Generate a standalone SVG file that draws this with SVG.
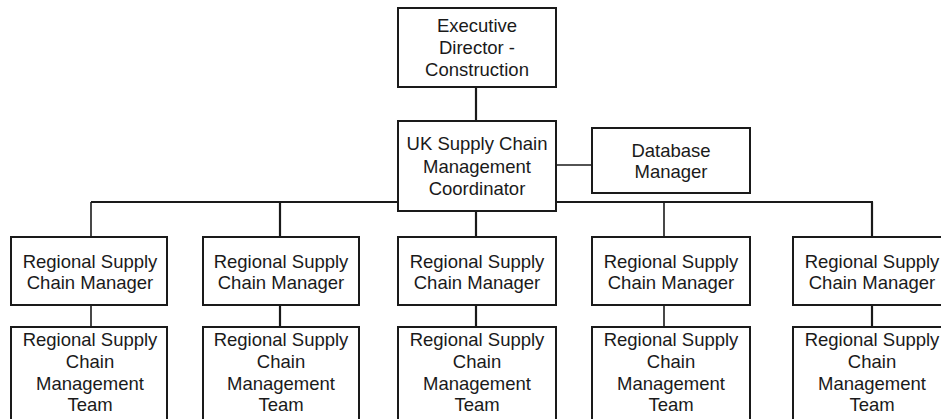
<svg xmlns="http://www.w3.org/2000/svg" width="941" height="419" viewBox="0 0 941 419">
  <style>
    .box { fill: #ffffff; stroke: #1a1a1a; stroke-width: 2; }
    .lbl { font-family: "Liberation Sans", Arial, Helvetica, sans-serif; font-size: 18.5px; fill: #1a1a1a; text-anchor: middle; }
    .wire { stroke: #1a1a1a; stroke-width: 1.6; fill: none; }
    .bus { stroke: #1a1a1a; stroke-width: 2.2; fill: none; }
  </style>
  <rect width="941" height="419" fill="#ffffff"/>

  <!-- connectors -->
  <g id="connectors">
    <line class="bus" x1="476" y1="87" x2="476" y2="121"/>
    <line class="wire" x1="556" y1="165" x2="592" y2="165"/>
    <line class="bus" x1="91" y1="202" x2="873" y2="202"/>
    <line class="wire" x1="91" y1="202" x2="91" y2="237"/>
    <line class="bus" x1="280" y1="202" x2="280" y2="237"/>
    <line class="bus" x1="476" y1="211" x2="476" y2="237"/>
    <line class="wire" x1="664" y1="202" x2="664" y2="237"/>
    <line class="bus" x1="872" y1="202" x2="872" y2="237"/>
    <line class="wire" x1="91" y1="305" x2="91" y2="327"/>
    <line class="bus" x1="280" y1="305" x2="280" y2="327"/>
    <line class="bus" x1="476" y1="305" x2="476" y2="327"/>
    <line class="wire" x1="664" y1="305" x2="664" y2="327"/>
    <line class="bus" x1="872" y1="305" x2="872" y2="327"/>
  </g>

  <g id="executive-director">
    <rect class="box" x="398" y="8" width="158" height="79"/>
    <text class="lbl" x="477" y="32">Executive</text>
    <text class="lbl" x="477" y="54">Director -</text>
    <text class="lbl" x="477" y="76">Construction</text>
  </g>

  <g id="uk-coordinator">
    <rect class="box" x="398" y="121" width="158" height="90"/>
    <text class="lbl" x="477" y="150">UK Supply Chain</text>
    <text class="lbl" x="477" y="172.5">Management</text>
    <text class="lbl" x="477" y="195">Coordinator</text>
  </g>

  <g id="database-manager">
    <rect class="box" x="592" y="128" width="158" height="65"/>
    <text class="lbl" x="671" y="156.5">Database</text>
    <text class="lbl" x="671" y="178">Manager</text>
  </g>

  <!-- regional managers -->
  <g id="manager-1">
    <rect class="box" x="11" y="237" width="156" height="68"/>
    <text class="lbl" x="90" y="267.5">Regional Supply</text>
    <text class="lbl" x="90" y="288.5">Chain Manager</text>
  </g>
  <g id="manager-2">
    <rect class="box" x="203" y="237" width="156" height="68"/>
    <text class="lbl" x="281" y="267.5">Regional Supply</text>
    <text class="lbl" x="281" y="288.5">Chain Manager</text>
  </g>
  <g id="manager-3">
    <rect class="box" x="398" y="237" width="158" height="68"/>
    <text class="lbl" x="477" y="267.5">Regional Supply</text>
    <text class="lbl" x="477" y="288.5">Chain Manager</text>
  </g>
  <g id="manager-4">
    <rect class="box" x="592" y="237" width="158" height="68"/>
    <text class="lbl" x="671" y="267.5">Regional Supply</text>
    <text class="lbl" x="671" y="288.5">Chain Manager</text>
  </g>
  <g id="manager-5">
    <rect class="box" x="793" y="237" width="158" height="68"/>
    <text class="lbl" x="872" y="267.5">Regional Supply</text>
    <text class="lbl" x="872" y="288.5">Chain Manager</text>
  </g>

  <!-- regional teams -->
  <g id="team-1">
    <rect class="box" x="11" y="327" width="156" height="100"/>
    <text class="lbl" x="90" y="346">Regional Supply</text>
    <text class="lbl" x="90" y="368">Chain</text>
    <text class="lbl" x="90" y="389.5">Management</text>
    <text class="lbl" x="90" y="411">Team</text>
  </g>
  <g id="team-2">
    <rect class="box" x="203" y="327" width="156" height="100"/>
    <text class="lbl" x="281" y="346">Regional Supply</text>
    <text class="lbl" x="281" y="368">Chain</text>
    <text class="lbl" x="281" y="389.5">Management</text>
    <text class="lbl" x="281" y="411">Team</text>
  </g>
  <g id="team-3">
    <rect class="box" x="398" y="327" width="158" height="100"/>
    <text class="lbl" x="477" y="346">Regional Supply</text>
    <text class="lbl" x="477" y="368">Chain</text>
    <text class="lbl" x="477" y="389.5">Management</text>
    <text class="lbl" x="477" y="411">Team</text>
  </g>
  <g id="team-4">
    <rect class="box" x="592" y="327" width="158" height="100"/>
    <text class="lbl" x="671" y="346">Regional Supply</text>
    <text class="lbl" x="671" y="368">Chain</text>
    <text class="lbl" x="671" y="389.5">Management</text>
    <text class="lbl" x="671" y="411">Team</text>
  </g>
  <g id="team-5">
    <rect class="box" x="793" y="327" width="158" height="100"/>
    <text class="lbl" x="872" y="346">Regional Supply</text>
    <text class="lbl" x="872" y="368">Chain</text>
    <text class="lbl" x="872" y="389.5">Management</text>
    <text class="lbl" x="872" y="411">Team</text>
  </g>
</svg>
